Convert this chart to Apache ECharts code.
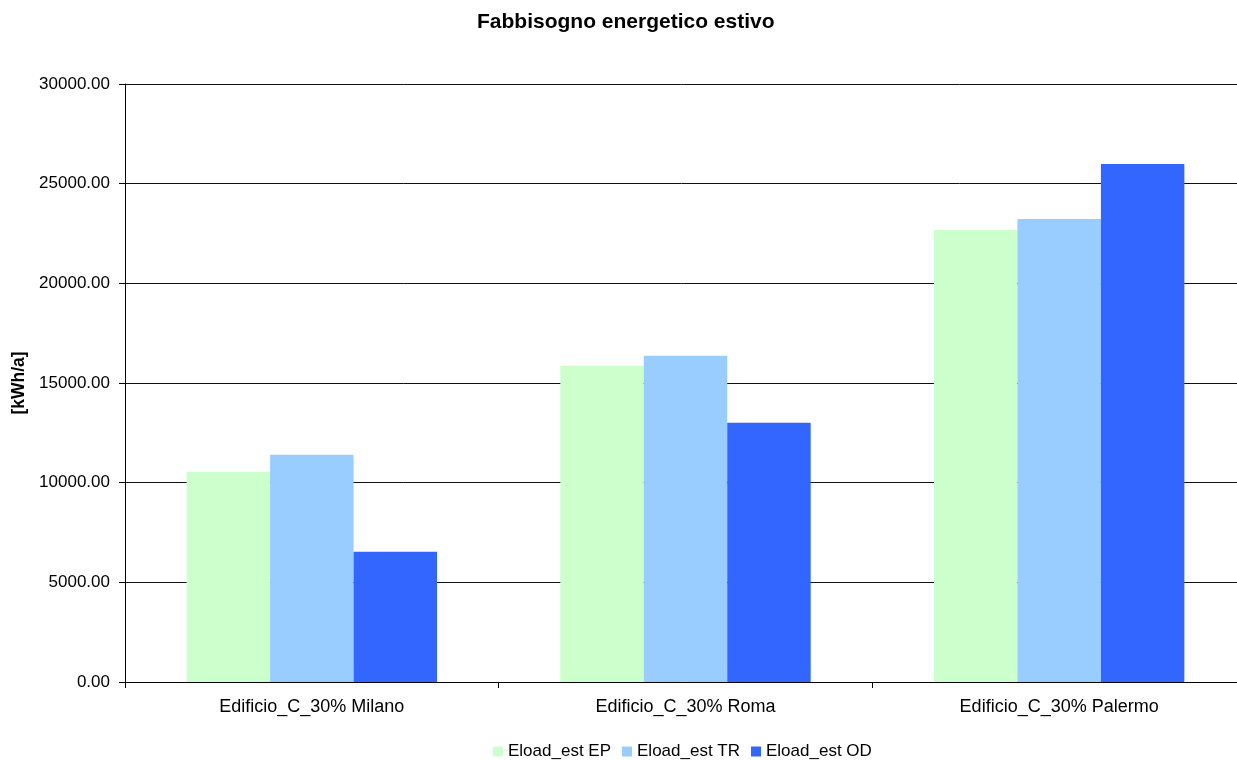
<!DOCTYPE html>
<html>
<head>
<meta charset="utf-8">
<script src="https://cdn.jsdelivr.net/npm/echarts@6/dist/echarts.min.js"></script>
<style>
  html, body { margin: 0; padding: 0; background: #fff; }
  #chart { width: 1237px; height: 760px; }
</style>
</head>
<body>
<div id="chart"></div>
<script>
const categories = ['Edificio_C_30% Milano', 'Edificio_C_30% Roma', 'Edificio_C_30% Palermo'];
const seriesNames = ['Eload_est EP', 'Eload_est TR', 'Eload_est OD'];
const epValues = [10545, 15860, 22680];
const trValues = [11397, 16361, 23231];
const odValues = [6534, 13002, 25989];
const colors = ['#ccffcc', '#99ccff', '#3366ff'];

const font = 'Liberation Sans, Arial, sans-serif';

const chart = echarts.init(document.getElementById('chart'));

function bar(name, data, color) {
    return {
        name: name,
        type: 'bar',
        data: data,
        barGap: '0%',
        barCategoryGap: '33%',
        itemStyle: { color: color },
        animation: false
    };
}

chart.setOption({
    backgroundColor: '#fff',
    textStyle: { fontFamily: font },
    title: {
        text: 'Fabbisogno energetico estivo',
        left: 472,
        top: 7,
        textStyle: { fontFamily: font, fontSize: 21, fontWeight: 'bold', color: '#000' }
    },
    legend: {
        data: seriesNames,
        bottom: -5,
        left: 488,
        itemWidth: 10,
        itemHeight: 10,
        itemGap: 11,
        icon: 'rect',
        textStyle: { fontFamily: font, fontSize: 17, color: '#000' }
    },
    grid: { left: 125, right: -9, top: 84, bottom: 78, containLabel: false, outerBoundsMode: 'none' },
    xAxis: {
        type: 'category',
        data: categories,
        axisLine: { lineStyle: { color: '#000', width: 1 } },
        axisTick: { show: true, inside: false, length: 6, lineStyle: { color: '#000' } },
        axisLabel: { fontFamily: font, fontSize: 18, color: '#000', margin: 16 }
    },
    yAxis: {
        type: 'value',
        min: 0,
        max: 30000,
        interval: 5000,
        name: '[kWh/a]',
        nameLocation: 'middle',
        nameGap: 95,
        nameRotate: 90,
        nameTextStyle: { fontFamily: font, fontSize: 17.5, fontWeight: 'bold', color: '#000' },
        axisLine: { show: true, lineStyle: { color: '#000' } },
        axisTick: { show: true, length: 6, lineStyle: { color: '#000' } },
        axisLabel: {
            fontFamily: font, fontSize: 17, color: '#000', margin: 15,
            formatter: v => v.toFixed(2)
        },
        splitLine: { show: true, lineStyle: { color: '#111', width: 1 } }
    },
    series: [
        bar(seriesNames[0], epValues, colors[0]),
        bar(seriesNames[1], trValues, colors[1]),
        bar(seriesNames[2], odValues, colors[2])
    ]
});
</script>
</body>
</html>
